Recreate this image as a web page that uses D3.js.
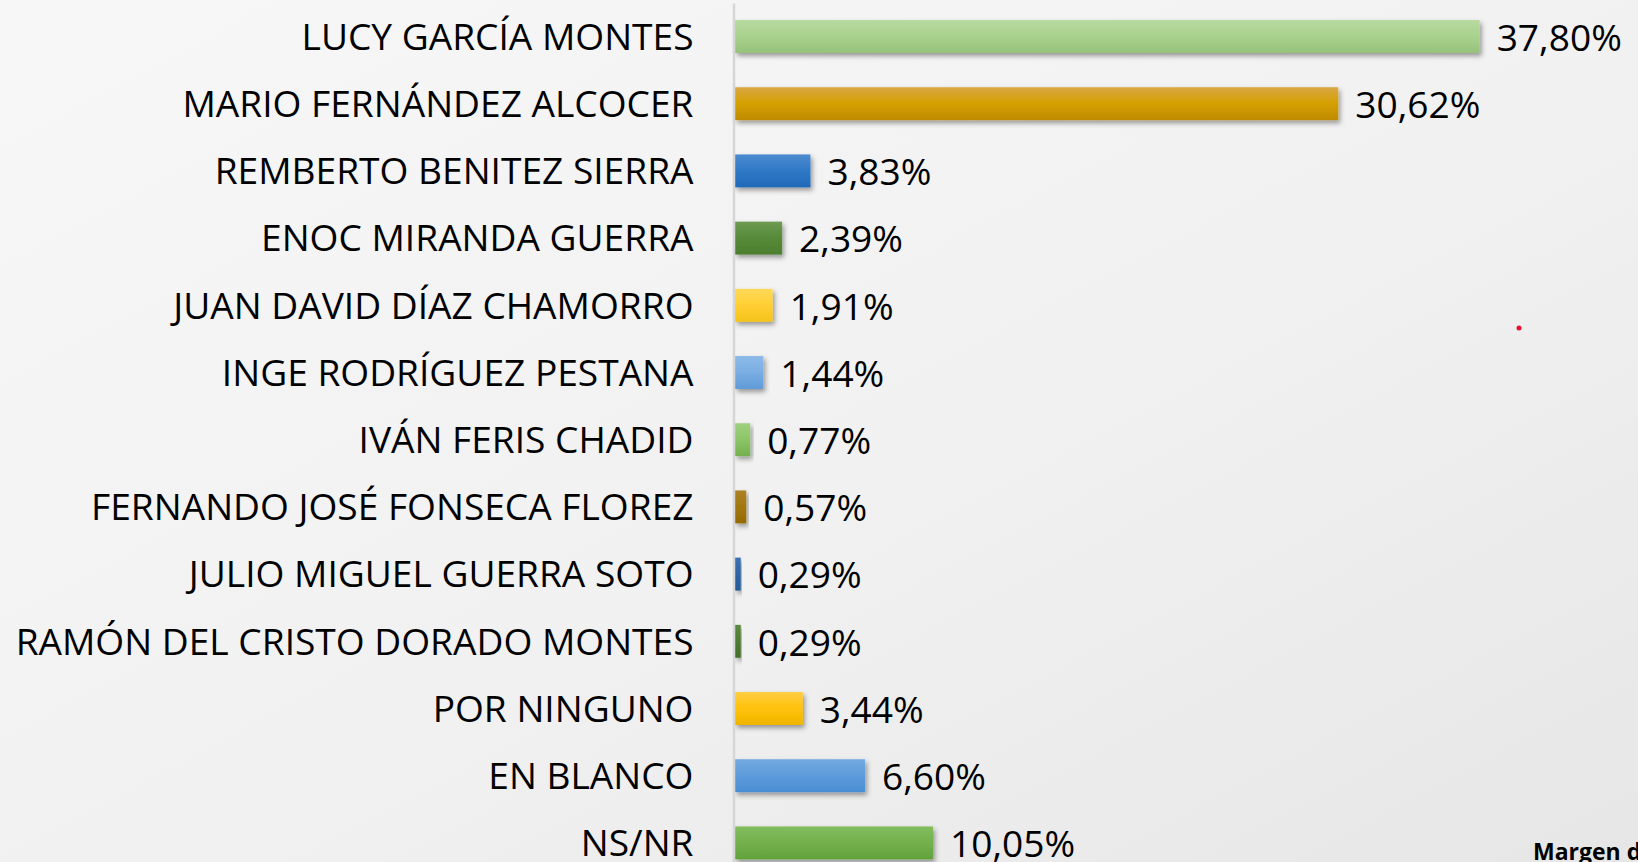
<!DOCTYPE html>
<html>
<head>
<meta charset="utf-8">
<script src="https://cdn.jsdelivr.net/npm/d3@7"></script>
<style>
  html, body { margin: 0; padding: 0; overflow: hidden; }
  body { width: 1638px; height: 862px; }
  svg { display: block; }
</style>
</head>
<body>
<svg id="chart" width="1638" height="862"></svg>
<script>
// ---- data ----
const categories = [
  "LUCY GARCÍA MONTES",
  "MARIO FERNÁNDEZ ALCOCER",
  "REMBERTO BENITEZ SIERRA",
  "ENOC MIRANDA GUERRA",
  "JUAN DAVID DÍAZ CHAMORRO",
  "INGE RODRÍGUEZ PESTANA",
  "IVÁN FERIS CHADID",
  "FERNANDO JOSÉ FONSECA FLOREZ",
  "JULIO MIGUEL GUERRA SOTO",
  "RAMÓN DEL CRISTO DORADO MONTES",
  "POR NINGUNO",
  "EN BLANCO",
  "NS/NR"
];
const values = [37.80, 30.62, 3.83, 2.39, 1.91, 1.44, 0.77, 0.57, 0.29, 0.29, 3.44, 6.60, 10.05];
const valueLabels = ["37,80%", "30,62%", "3,83%", "2,39%", "1,91%", "1,44%", "0,77%", "0,57%", "0,29%", "0,29%", "3,44%", "6,60%", "10,05%"];
// gradient colours per bar: [top, middle, bottom]
const barColors = [
  ["#b6da9f", "#a9d18e", "#96c27a"],
  ["#daa745", "#d4a000", "#c08a00"],
  ["#4d8ad0", "#2f79c6", "#1f69b8"],
  ["#6d9b52", "#568a38", "#4c7f2e"],
  ["#ffd95a", "#ffcf33", "#f3c21b"],
  ["#8dbae8", "#7aaee3", "#5f9bd8"],
  ["#9fd07f", "#8cc568", "#72b04c"],
  ["#ab8222", "#a37610", "#946a00"],
  ["#3a72b4", "#2d64a5", "#245a98"],
  ["#5a8a3e", "#4d7c32", "#436f2a"],
  ["#ffcd45", "#ffc20a", "#f0b400"],
  ["#74aae0", "#5c9cdb", "#4a8ed2"],
  ["#82bd5e", "#72b14b", "#62a23a"]
];
const footnote = "Margen d";

// ---- layout ----
const W = 1638, H = 862;
const svg = d3.select("#chart");
const defs = svg.append("defs");

// background gradient
const bg = defs.append("linearGradient").attr("id", "bg")
  .attr("x1", "0").attr("y1", "0").attr("x2", "1").attr("y2", "1");
bg.append("stop").attr("offset", "0").attr("stop-color", "#f7f7f7");
bg.append("stop").attr("offset", "0.55").attr("stop-color", "#f1f1f1");
bg.append("stop").attr("offset", "1").attr("stop-color", "#e6e6e6");
svg.append("rect").attr("width", W).attr("height", H).attr("fill", "url(#bg)");

// drop shadow
const f = defs.append("filter").attr("id", "shadow")
  .attr("x", "-20%").attr("y", "-40%").attr("width", "140%").attr("height", "200%");
f.append("feDropShadow").attr("dx", 2).attr("dy", 3).attr("stdDeviation", 2.5)
  .attr("flood-color", "#000").attr("flood-opacity", 0.38);

barColors.forEach((c, i) => {
  const g = defs.append("linearGradient").attr("id", "grad" + i)
    .attr("x1", "0").attr("y1", "0").attr("x2", "0").attr("y2", "1");
  g.append("stop").attr("offset", "0").attr("stop-color", c[0]);
  g.append("stop").attr("offset", "0.5").attr("stop-color", c[1]);
  g.append("stop").attr("offset", "1").attr("stop-color", c[2]);
});

const x = d3.scaleLinear().domain([0, 40]).range([735, 735 + 19.7 * 40]);
const y = d3.scaleBand().domain(categories).range([2.9, 876.5])
  .paddingInner(0.51).paddingOuter(0.255);

const FONT = "'Open Sans', 'DejaVu Sans', sans-serif";

// figure out font size so longest label matches the reference width
const probe = svg.append("text").attr("font-family", FONT).attr("font-size", 40)
  .text(categories[9]);
const pw = probe.node().getComputedTextLength();
probe.remove();
const fs = 40 * 678 / pw;

// bars
svg.append("g").selectAll("rect").data(values).join("rect")
  .attr("x", x(0))
  .attr("y", (d, i) => y(categories[i]))
  .attr("width", d => x(d) - x(0))
  .attr("height", y.bandwidth())
  .attr("fill", (d, i) => `url(#grad${i})`)
  .attr("filter", "url(#shadow)");

// axis with category labels
const axis = svg.append("g").attr("transform", "translate(733.5,0)")
  .call(d3.axisLeft(y).tickSize(0).tickSizeOuter(0).tickPadding(40));
axis.select(".domain").attr("stroke", "#d6d6d6").attr("stroke-width", 2.5);
axis.selectAll("text")
  .attr("font-family", FONT).attr("font-size", fs).attr("fill", "#000")
  .attr("dy", "0.36em");

// value labels
svg.append("g").selectAll("text").data(values).join("text")
  .attr("x", d => x(d) + 17)
  .attr("y", (d, i) => y(categories[i]) + y.bandwidth() / 2 + 1)
  .attr("dy", "0.36em")
  .attr("font-family", FONT).attr("font-size", fs).attr("fill", "#000")
  .text((d, i) => valueLabels[i]);

// stray red dot
svg.append("circle").attr("cx", 1519).attr("cy", 328).attr("r", 2.5).attr("fill", "#e8102a");

// footnote (runs off the edge in the reference)
svg.append("text").attr("x", 1533).attr("y", 860)
  .attr("font-family", FONT).attr("font-weight", "bold").attr("font-size", 23)
  .attr("fill", "#000").text(footnote);
</script>
</body>
</html>
